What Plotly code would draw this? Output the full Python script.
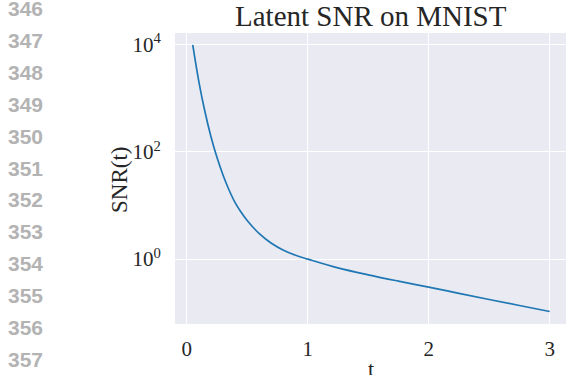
import plotly.graph_objects as go

t_vals = [0.05, 0.1, 0.15, 0.2, 0.25, 0.3, 0.35, 0.4, 0.45, 0.5, 0.55, 0.6, 0.7, 0.8, 0.9,
          1.0, 1.25, 1.5, 1.75, 2.0, 2.25, 2.5, 2.75, 3.0]
snr_vals = [10000, 2089, 575, 195, 79.4, 37.2, 19.5, 11.35, 7.50, 5.25, 3.89, 2.99, 1.97, 1.46,
            1.175, 1.0, 0.684, 0.507, 0.387, 0.299, 0.229, 0.176, 0.136, 0.105]
x_ticks = [0, 1, 2, 3]
y_ticks = [1, 100, 10000]
y_tick_text = ["10<sup>0</sup>", "10<sup>2</sup>", "10<sup>4</sup>"]
line_numbers = [str(n) for n in range(346, 358)]

W, H = 566, 375
L, R, T, B = 175, 0, 33, 51

fig = go.Figure()
fig.add_trace(go.Scatter(x=t_vals, y=snr_vals, mode="lines", line_shape="spline",
                         line=dict(color="#1f77b4", width=1.7), showlegend=False,
                         hoverinfo="skip"))

serif = "Liberation Serif, DejaVu Serif, serif"
txt = "#262626"

fig.update_layout(
    width=W, height=H,
    margin=dict(l=L, r=R, t=T, b=B, pad=0, autoexpand=False),
    paper_bgcolor="white", plot_bgcolor="#EAEAF2",
    font=dict(family=serif, size=20, color=txt),
    xaxis=dict(range=[-0.0967, 3.135], tickvals=x_ticks, ticktext=[str(v) for v in x_ticks],
               automargin=False,
               showgrid=True, gridcolor="white", gridwidth=1, zeroline=False,
               showline=False, ticks="outside", ticklen=6, tickcolor="rgba(0,0,0,0)",
               tickfont=dict(family=serif, size=21, color=txt)),
    yaxis=dict(type="log", range=[-1.2127, 4.222], tickvals=y_ticks, ticktext=y_tick_text,
               automargin=False,
               showgrid=True, gridcolor="white", gridwidth=1, zeroline=False,
               showline=False, ticks="outside", ticklen=9, tickcolor="rgba(0,0,0,0)",
               tickfont=dict(family=serif, size=21, color=txt)),
)

def px_x(px):
    return (px - L) / (W - L - R)
def px_y(py):
    return (H - B - py) / (H - T - B)

annotations = [
    dict(text="Latent SNR on MNIST", x=px_x(371), y=px_y(16), xref="paper", yref="paper",
         showarrow=False, xanchor="center", yanchor="middle",
         font=dict(family=serif, size=29, color=txt)),
    dict(text="SNR(t)", x=px_x(119), y=px_y(180), xref="paper", yref="paper",
         showarrow=False, xanchor="center", yanchor="middle", textangle=-90,
         font=dict(family=serif, size=23, color=txt)),
    dict(text="t", x=px_x(371), y=px_y(369), xref="paper", yref="paper",
         showarrow=False, xanchor="center", yanchor="middle",
         font=dict(family=serif, size=22, color=txt)),
]
for i, lab in enumerate(line_numbers):
    annotations.append(dict(text="<b>" + lab + "</b>", x=px_x(25), y=px_y(8.5 + i * 31.9),
                            xref="paper", yref="paper", showarrow=False,
                            xanchor="center", yanchor="middle",
                            font=dict(family="Liberation Sans, Arial, sans-serif", size=21,
                                      color="#b3b3b3")))
fig.update_layout(annotations=annotations)

fig.write_html("out.html", config={"displayModeBar": False},
               post_script="document.body.style.margin='0';document.body.style.overflow='hidden';")
